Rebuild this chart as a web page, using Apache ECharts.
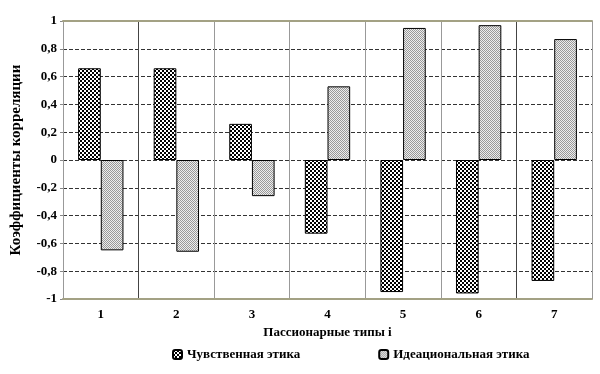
<!DOCTYPE html>
<html>
<head>
<meta charset="utf-8">
<script src="https://cdn.jsdelivr.net/npm/echarts@6/dist/echarts.min.js"></script>
<style>html,body{margin:0;padding:0;background:#fff}#c{width:600px;height:374px}</style>
</head>
<body>
<div id="c"></div>
<script>
var categories = ['1', '2', '3', '4', '5', '6', '7'];
var sensualEthics = [0.66, 0.66, 0.26, -0.53, -0.95, -0.96, -0.87];
var ideationalEthics = [-0.65, -0.66, -0.26, 0.53, 0.95, 0.97, 0.87];
var seriesNames = ['Чувственная этика', 'Идеациональная этика'];
var yTicks = [-1, -0.8, -0.6, -0.4, -0.2, 0, 0.2, 0.4, 0.6, 0.8, 1];

function makeChecker() {
  var c = document.createElement('canvas');
  c.width = 4; c.height = 4;
  var g = c.getContext('2d');
  g.fillStyle = '#fff'; g.fillRect(0, 0, 4, 4);
  g.fillStyle = '#000';
  g.fillRect(0, 0, 2, 2); g.fillRect(2, 2, 2, 2);
  return c;
}
function makeDither() {
  var c = document.createElement('canvas');
  c.width = 2; c.height = 2;
  var g = c.getContext('2d');
  g.fillStyle = '#ededed'; g.fillRect(0, 0, 2, 2);
  g.fillStyle = '#999';
  g.fillRect(0, 0, 1, 1); g.fillRect(1, 1, 1, 1);
  return c;
}

var font = 'Liberation Serif';
var chart = echarts.init(document.getElementById('c'), null, {renderer: 'canvas'});
chart.setOption({
  animation: false,
  backgroundColor: '#fff',
  grid: {left: 63, right: 8, top: 21, bottom: 75},
  legend: {
    bottom: 8,
    left: 167,
    itemWidth: 9,
    itemHeight: 9,
    itemGap: 78,
    textStyle: {fontFamily: font, fontWeight: 'bold', fontSize: 13, color: '#000'},
    data: seriesNames
  },
  xAxis: [{
    type: 'category',
    data: categories,
    name: 'Пассионарные типы i',
    nameLocation: 'middle',
    nameGap: 26,
    nameTextStyle: {fontFamily: font, fontWeight: 'bold', fontSize: 13, color: '#000'},
    axisLine: {onZero: false, lineStyle: {color: '#a3a184', width: 2}},
    axisTick: {show: false},
    axisLabel: {fontFamily: font, fontWeight: 'bold', fontSize: 13, color: '#000', margin: 9},
    splitLine: {show: true, interval: 0, lineStyle: {color: ['#999', '#444', '#999', '#999', '#999', '#999', '#444', '#999'], width: 1}},
    z: 3
  }, {
    type: 'category',
    position: 'top',
    data: categories,
    axisLine: {onZero: false, lineStyle: {color: '#a3a184', width: 2}},
    axisTick: {show: false},
    axisLabel: {show: false},
    z: 3
  }],
  yAxis: {
    type: 'value',
    min: -1,
    max: 1,
    interval: 0.2,
    name: 'Коэффициенты корреляции',
    nameLocation: 'middle',
    nameGap: 39,
    nameTextStyle: {fontFamily: font, fontWeight: 'bold', fontSize: 15, color: '#000'},
    axisLine: {show: true, lineStyle: {color: '#888'}},
    axisTick: {show: true, length: 3, lineStyle: {color: '#888'}},
    axisLabel: {
      fontFamily: font, fontWeight: 'bold', fontSize: 13, color: '#000', margin: 6,
      formatter: function (v) {
        var r = Math.round(v * 10) / 10;
        return String(r).replace('.', ',');
      }
    },
    splitLine: {show: true, lineStyle: {color: '#333', type: 'dashed', width: 1}}
  },
  series: [{
    name: seriesNames[0],
    type: 'bar',
    data: sensualEthics,
    barGap: '0%',
    barCategoryGap: '40%',
    itemStyle: {color: {image: makeChecker(), repeat: 'repeat'}, borderColor: '#000', borderWidth: 1}
  }, {
    name: seriesNames[1],
    type: 'bar',
    data: ideationalEthics,
    barGap: '0%',
    barCategoryGap: '40%',
    itemStyle: {color: {image: makeDither(), repeat: 'repeat'}, borderColor: '#000', borderWidth: 1}
  }]
});
</script>
</body>
</html>
